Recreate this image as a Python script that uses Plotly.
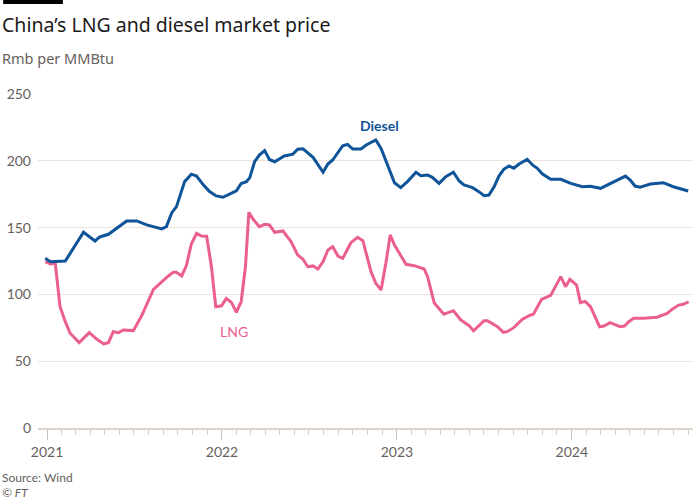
import plotly.graph_objects as go

diesel_dates = [
    "2020-12-28", "2021-01-08", "2021-02-08", "2021-03-18", "2021-04-11", "2021-04-21",
    "2021-05-09", "2021-05-26", "2021-06-16", "2021-07-07", "2021-07-28", "2021-08-28",
    "2021-09-07", "2021-09-18", "2021-09-28", "2021-10-15", "2021-10-29", "2021-11-09",
    "2021-11-23", "2021-12-06", "2021-12-20", "2022-01-03", "2022-01-17", "2022-01-31",
    "2022-02-10", "2022-02-21", "2022-02-28", "2022-03-10", "2022-03-20", "2022-03-31",
    "2022-04-10", "2022-04-21", "2022-05-11", "2022-05-29", "2022-06-08", "2022-06-19",
    "2022-07-10", "2022-07-31", "2022-08-10", "2022-08-20", "2022-09-10", "2022-09-20",
    "2022-10-01", "2022-10-18", "2022-10-29", "2022-11-18", "2022-11-29", "2022-12-13",
    "2022-12-27", "2023-01-09", "2023-01-23", "2023-02-10", "2023-02-20", "2023-03-06",
    "2023-03-16", "2023-03-30", "2023-04-13", "2023-04-29", "2023-05-11", "2023-05-21",
    "2023-06-08", "2023-06-21", "2023-07-02", "2023-07-12", "2023-07-23", "2023-08-02",
    "2023-08-12", "2023-08-23", "2023-09-02", "2023-09-13", "2023-09-30", "2023-10-11",
    "2023-10-21", "2023-11-01", "2023-11-18", "2023-12-09", "2023-12-30", "2024-01-23",
    "2024-02-09", "2024-03-01", "2024-03-21", "2024-04-04", "2024-04-22", "2024-05-02",
    "2024-05-12", "2024-05-23", "2024-06-13", "2024-07-10", "2024-07-31", "2024-08-31",
]
diesel_values = [
    127.0, 124.5, 125.0, 146.5, 140.0, 143.0,
    145.0, 149.5, 155.0, 155.0, 152.0, 149.0,
    150.7, 161.0, 165.7, 184.4, 190.0, 188.6,
    182.0, 177.0, 173.7, 172.7, 175.0, 177.6,
    183.0, 184.4, 187.4, 199.3, 204.3, 207.6,
    201.0, 199.3, 203.6, 205.0, 208.6, 209.0,
    202.6, 191.4, 197.6, 200.6, 211.3, 212.3,
    208.8, 208.8, 211.8, 215.6, 209.3, 196.9,
    183.6, 179.9, 184.4, 191.4, 188.9, 189.4,
    187.6, 183.1, 188.1, 191.4, 184.9, 181.9,
    179.9, 176.9, 173.9, 174.4, 180.6, 188.6,
    193.6, 196.1, 194.4, 197.6, 201.1, 196.9,
    194.4, 190.1, 186.2, 186.2, 183.1, 180.6,
    180.9, 179.4, 183.1, 185.6, 188.6, 185.6,
    181.1, 180.2, 182.6, 183.6, 180.6, 177.4,
]

lng_dates = [
    "2020-12-28", "2021-01-08", "2021-01-18", "2021-01-28", "2021-02-08", "2021-02-18",
    "2021-03-09", "2021-03-30", "2021-04-15", "2021-04-29", "2021-05-09", "2021-05-19",
    "2021-05-30", "2021-06-09", "2021-06-30", "2021-07-17", "2021-08-11", "2021-08-28",
    "2021-09-11", "2021-09-21", "2021-09-28", "2021-10-09", "2021-10-19", "2021-10-29",
    "2021-11-09", "2021-11-19", "2021-11-30", "2021-12-10", "2021-12-19", "2021-12-31",
    "2022-01-10", "2022-01-21", "2022-01-31", "2022-02-10", "2022-02-19", "2022-02-26",
    "2022-03-07", "2022-03-20", "2022-03-31", "2022-04-10", "2022-04-21", "2022-05-08",
    "2022-05-25", "2022-06-08", "2022-06-19", "2022-06-29", "2022-07-10", "2022-07-20",
    "2022-07-31", "2022-08-10", "2022-08-20", "2022-08-31", "2022-09-10", "2022-09-27",
    "2022-10-11", "2022-10-22", "2022-10-29", "2022-11-08", "2022-11-18", "2022-11-29",
    "2022-12-09", "2022-12-18", "2022-12-27", "2023-01-09", "2023-01-20", "2023-02-06",
    "2023-02-27", "2023-03-06", "2023-03-20", "2023-04-09", "2023-04-29", "2023-05-14",
    "2023-06-01", "2023-06-10", "2023-07-02", "2023-07-09", "2023-07-30", "2023-08-11",
    "2023-08-19", "2023-09-02", "2023-09-20", "2023-10-07", "2023-10-13", "2023-10-30",
    "2023-11-18", "2023-12-09", "2023-12-19", "2023-12-28", "2024-01-11", "2024-01-19",
    "2024-01-29", "2024-02-09", "2024-02-28", "2024-03-08", "2024-03-21", "2024-04-11",
    "2024-04-20", "2024-04-29", "2024-05-09", "2024-05-30", "2024-06-27", "2024-07-18",
    "2024-07-28", "2024-08-11", "2024-08-21", "2024-09-01",
]
lng_values = [
    124.5, 122.8, 123.3, 90.8, 79.6, 70.9,
    63.9, 71.4, 66.4, 62.9, 63.9, 72.1,
    71.4, 73.4, 72.9, 83.8, 103.8, 109.5,
    113.8, 116.5, 116.5, 113.8, 122.0, 137.7,
    145.7, 143.7, 143.5, 120.7, 90.8, 91.5,
    97.0, 93.8, 86.6, 94.5, 120.7, 161.4,
    156.2, 150.7, 152.5, 152.0, 146.5, 147.5,
    139.5, 129.5, 126.3, 120.7, 121.3, 119.0,
    124.5, 133.2, 135.7, 128.7, 127.0, 138.7,
    142.7, 140.2, 130.8, 117.0, 108.3, 103.3,
    123.3, 144.5, 137.0, 129.5, 122.5, 121.5,
    119.0, 113.3, 93.5, 85.2, 87.8, 81.0,
    76.5, 72.8, 80.3, 80.3, 75.8, 71.6,
    72.1, 75.1, 81.4, 84.6, 85.1, 96.3,
    99.3, 113.3, 105.8, 111.3, 107.0, 93.8,
    94.8, 90.8, 75.8, 76.3, 78.8, 75.8,
    76.3, 79.6, 82.1, 82.1, 82.9, 85.8,
    88.8, 92.0, 92.6, 94.5,
]

y_ticks = [0, 50, 100, 150, 200, 250]

W, H = 700, 500
ML, MR, MT, MB = 35, 7, 94, 72
PW, PH = W - ML - MR, H - MT - MB


def px(x):
    return (x - ML) / PW


def py(y):
    return (H - MB - y) / PH


BLUE = "#0f5499"
PINK = "#eb5f8f"
GREY = "#66605c"
FONT = "Lato, 'Noto Sans', sans-serif"
HFONT = "'Noto Sans', Lato, sans-serif"

fig = go.Figure()
fig.add_trace(go.Scatter(x=lng_dates, y=lng_values, mode="lines", name="LNG",
                         line=dict(color=PINK, width=3), hoverinfo="x+y"))
fig.add_trace(go.Scatter(x=diesel_dates, y=diesel_values, mode="lines", name="Diesel",
                         line=dict(color=BLUE, width=3), hoverinfo="x+y"))

annotations = [
    dict(text="China\u2019s LNG and diesel market price", x=px(-3), y=py(24), xref="paper", yref="paper",
         xanchor="left", yanchor="middle", showarrow=False,
         font=dict(family=HFONT, size=19.5, color="#1a1a1a")),
    dict(text="Rmb per MMBtu", x=px(-3), y=py(58), xref="paper", yref="paper",
         xanchor="left", yanchor="middle", showarrow=False,
         font=dict(family=HFONT, size=14.5, color=GREY)),
    dict(text="Source: Wind", x=px(-3), y=py(477), xref="paper", yref="paper",
         xanchor="left", yanchor="middle", showarrow=False,
         font=dict(family=FONT, size=12, color=GREY)),
    dict(text="<i>\u00a9 FT</i>", x=px(-3), y=py(492), xref="paper", yref="paper",
         xanchor="left", yanchor="middle", showarrow=False,
         font=dict(family=FONT, size=12, color=GREY)),
    dict(text="<b>Diesel</b>", x="2022-11-26", y=226.8, xref="x", yref="y",
         xanchor="center", yanchor="middle", showarrow=False,
         font=dict(family=FONT, size=14, color=BLUE)),
    dict(text="LNG", x="2022-01-27", y=71.9, xref="x", yref="y",
         xanchor="center", yanchor="middle", showarrow=False,
         font=dict(family=FONT, size=14, color=PINK)),
]

fig.update_layout(
    width=W, height=H,
    margin=dict(l=ML, r=MR, t=MT, b=MB, pad=0),
    paper_bgcolor="white", plot_bgcolor="white",
    showlegend=False,
    font=dict(family=FONT, size=14, color=GREY),
    annotations=annotations,
    shapes=[dict(type="rect", xref="paper", yref="paper",
                 x0=px(0), x1=px(60), y0=py(4), y1=py(0),
                 fillcolor="black", line=dict(width=0))],
)

fig.update_xaxes(
    type="date",
    range=["2020-12-13", "2024-09-10"],
    tick0="2021-01-01", dtick="M12", tickformat="%Y",
    ticks="outside", ticklen=10, tickcolor="#c9c1b6", tickwidth=1,
    showline=True, linecolor="#ddd5ca", linewidth=2,
    showgrid=False, zeroline=False,
    tickfont=dict(family=FONT, size=14, color=GREY),
    minor=dict(dtick="M1", tick0="2021-01-01", ticks="outside", ticklen=5,
               tickcolor="#d6cfc5", tickwidth=1, showgrid=False),
    fixedrange=True,
)
fig.update_yaxes(
    range=[0, 250], tickvals=y_ticks,
    showgrid=True, gridcolor="#ece4da", gridwidth=1,
    zeroline=False, showline=False, ticks="",
    tickfont=dict(family=FONT, size=14, color=GREY),
    ticklabelstandoff=6,
    fixedrange=True,
)

fig.write_html("out.html", config={"displayModeBar": False},
               post_script="document.body.style.margin='0';")
